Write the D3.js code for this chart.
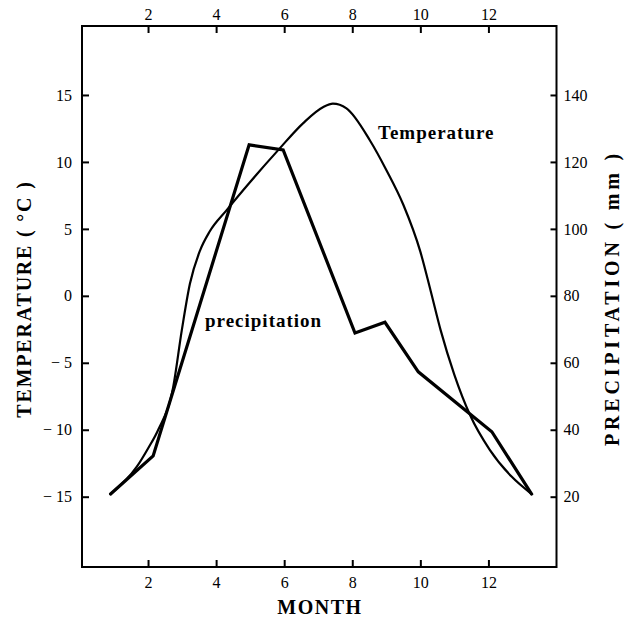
<!DOCTYPE html>
<html>
<head>
<meta charset="utf-8">
<script src="https://cdn.jsdelivr.net/npm/d3@7"></script>
<style>
  body { margin: 0; background: #fff; }
  svg { display: block; }
</style>
</head>
<body>
<svg id="chart" width="624" height="620"></svg>
<script>
// ---- data ----
const monthTicks = [2, 4, 6, 8, 10, 12];
const tempTicks = [-15, -10, -5, 0, 5, 10, 15];
const precipTicks = [20, 40, 60, 80, 100, 120, 140];

// temperature curve sample points (month, °C)
const tempMonths = [0.9, 1.66, 2.0, 2.3, 2.74, 2.99, 3.23, 3.53, 3.81, 4.31, 5.0, 5.83, 6.56, 7.15, 7.43, 7.83, 8.52, 9.0, 9.5, 10.0, 10.3, 10.6, 11.0, 11.46, 12.04, 12.68, 13.27];
const tempValues = [-14.8, -12.8, -11.4, -10.0, -6.8, -2.6, 0.9, 3.4, 4.8, 6.4, 8.5, 10.9, 12.9, 14.1, 14.35, 14.0, 11.6, 9.4, 6.8, 3.3, 0.4, -2.6, -5.9, -8.9, -11.5, -13.5, -14.8];

// precipitation polyline (month, mm)
const precipMonths = [0.9, 2.15, 4.97, 5.97, 8.08, 8.96, 9.94, 12.1, 13.27];
const precipValues = [20.8, 32.2, 125.1, 123.6, 68.9, 72.1, 57.3, 39.4, 20.8];

const labels = {
  x: "MONTH",
  yLeft: "TEMPERATURE ( °C )",
  yRight: "PRECIPITATION ( mm )",
  temp: "Temperature",
  precip: "precipitation"
};

// ---- layout ----
const L = 82, R = 556.5, T = 26, B = 567;
const serif = "'Liberation Serif', 'DejaVu Serif', serif";

const svg = d3.select("#chart");

const x = d3.scaleLinear().domain([0.06, 14]).range([L, R]);
const yT = d3.scaleLinear().domain([-20.25, 20.15]).range([B, T]);
const yP = d3.scaleLinear().domain([-1, 160.6]).range([B, T]);

const fmtT = d => d < 0 ? "\u2212 " + Math.abs(d) : String(d);

function styleAxis(g) {
  g.select(".domain").remove();
  g.selectAll(".tick line").attr("stroke", "#000").attr("stroke-width", 2);
  g.selectAll(".tick text")
    .attr("fill", "#000")
    .style("font-family", serif)
    .style("font-size", "16px");
}

// axes (ticks pointing inward)
svg.append("g").attr("transform", `translate(0,${B})`)
  .call(d3.axisBottom(x).tickValues(monthTicks).tickSizeInner(-7).tickSizeOuter(0).tickPadding(10))
  .call(styleAxis);
svg.append("g").attr("transform", `translate(0,${T})`)
  .call(d3.axisTop(x).tickValues(monthTicks).tickSizeInner(-7).tickSizeOuter(0).tickPadding(6))
  .call(styleAxis);
svg.append("g").attr("transform", `translate(${L},0)`)
  .call(d3.axisLeft(yT).tickValues(tempTicks).tickFormat(fmtT).tickSizeInner(-7).tickSizeOuter(0).tickPadding(10))
  .call(styleAxis);
svg.append("g").attr("transform", `translate(${R},0)`)
  .call(d3.axisRight(yP).tickValues(precipTicks).tickSizeInner(-6).tickSizeOuter(0).tickPadding(7))
  .call(styleAxis);

// frame
svg.append("rect")
  .attr("x", L).attr("y", T).attr("width", R - L).attr("height", B - T)
  .attr("fill", "none").attr("stroke", "#000").attr("stroke-width", 2);

// temperature curve
const tempData = tempMonths.map((m, i) => [m, tempValues[i]]);
svg.append("path")
  .datum(tempData)
  .attr("fill", "none").attr("stroke", "#000").attr("stroke-width", 2.2)
  .attr("stroke-linejoin", "round").attr("stroke-linecap", "round")
  .attr("d", d3.line().x(d => x(d[0])).y(d => yT(d[1])).curve(d3.curveMonotoneX));

// precipitation polyline
const precipData = precipMonths.map((m, i) => [m, precipValues[i]]);
svg.append("path")
  .datum(precipData)
  .attr("fill", "none").attr("stroke", "#000").attr("stroke-width", 3.2)
  .attr("stroke-linejoin", "miter").attr("stroke-linecap", "round")
  .attr("d", d3.line().x(d => x(d[0])).y(d => yP(d[1])));

// text labels
const bold = sel => sel.attr("fill", "#000").style("font-family", serif).style("font-weight", "bold");

svg.append("text").call(bold)
  .attr("x", 320).attr("y", 614).attr("text-anchor", "middle")
  .style("font-size", "20px").style("letter-spacing", "1.5px")
  .text(labels.x);

svg.append("text").call(bold)
  .attr("transform", "translate(31,299) rotate(-90)").attr("text-anchor", "middle")
  .style("font-size", "20px").style("letter-spacing", "1.8px")
  .text(labels.yLeft);

svg.append("text").call(bold)
  .attr("transform", "translate(619,298) rotate(-90)").attr("text-anchor", "middle")
  .style("font-size", "20px").style("letter-spacing", "3.8px")
  .text(labels.yRight);

svg.append("text").call(bold)
  .attr("x", 378).attr("y", 139)
  .style("font-size", "19px").style("letter-spacing", "1px")
  .text(labels.temp);

svg.append("text").call(bold)
  .attr("x", 205).attr("y", 327)
  .style("font-size", "19px").style("letter-spacing", "1px")
  .text(labels.precip);
</script>
</body>
</html>
